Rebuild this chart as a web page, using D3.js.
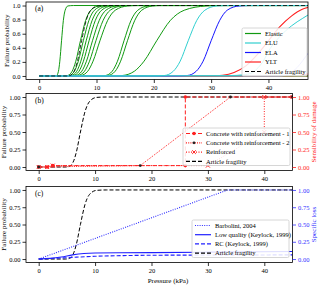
<!DOCTYPE html>
<html>
<head>
<meta charset="utf-8">
<script src="https://cdn.jsdelivr.net/npm/d3@7"></script>
<style>
body { margin: 0; background: #fff; }
svg { display: block; font-family: "Liberation Serif", "DejaVu Serif", serif; }
</style>
</head>
<body>
<svg id="chart" width="320" height="288"></svg>
<script>
var pressureTicks = [0, 10, 20, 30, 40];
var probTicksA = [0, 0.2, 0.4, 0.6, 0.8, 1.0];
var probTicksBC = [0, 0.25, 0.5, 0.75, 1.0];

// panel (a): fragility curves, [pressure kPa, failure probability]
var elastic = [
    [[0,0],[2.6,0],[3.04,0.006],[3.36,0.067],[3.6,0.21],[3.9,0.5],[4.22,0.79],[4.53,0.933],[5.01,0.994],[6,1],[47,1]],
    [[0,0],[4.5,0],[4.95,0.006],[5.75,0.067],[6.39,0.21],[7.2,0.5],[8.11,0.79],[9.01,0.933],[10.48,0.994],[12,1],[47,1]],
    [[0,0],[4.8,0],[5.29,0.006],[6.15,0.067],[6.83,0.21],[7.7,0.5],[8.68,0.79],[9.64,0.933],[11.2,0.994],[13,1],[47,1]],
    [[0,0],[5.1,0],[5.63,0.006],[6.55,0.067],[7.27,0.21],[8.2,0.5],[9.24,0.79],[10.27,0.933],[11.93,0.994],[13.5,1],[47,1]],
    [[0,0],[5.4,0],[5.98,0.006],[6.95,0.067],[7.72,0.21],[8.7,0.5],[9.8,0.79],[10.89,0.933],[12.66,0.994],[14,1],[47,1]],
    [[0,0],[5.8,0],[6.39,0.006],[7.43,0.067],[8.25,0.21],[9.3,0.5],[10.48,0.79],[11.64,0.933],[13.53,0.994],[15,1],[47,1]],
    [[0,0],[6.2,0],[6.8,0.006],[7.91,0.067],[8.78,0.21],[9.9,0.5],[11.16,0.79],[12.39,0.933],[14.4,0.994],[16,1],[47,1]],
    [[0,0],[6.6,0],[7.28,0.006],[8.47,0.067],[9.4,0.21],[10.6,0.5],[11.95,0.79],[13.27,0.933],[15.42,0.994],[17,1],[47,1]],
    [[0,0],[10.5,0],[11.53,0.006],[12.74,0.067],[13.66,0.21],[14.8,0.5],[16.03,0.79],[17.2,0.933],[19.0,0.994],[20.5,1],[47,1]],
    [[0,0],[11,0],[12.0,0.006],[13.26,0.067],[14.21,0.21],[15.4,0.5],[16.68,0.79],[17.89,0.933],[19.77,0.994],[21,1],[47,1]],
    [[0,0],[12.5,0],[14.45,0.006],[16.6,0.067],[18.3,0.21],[20.5,0.5],[22.9,0.79],[25.3,0.933],[29.1,0.994],[31,1],[47,1]],
    [[0,0],[47,0]]
];
var elu = [
    [[0,0],[20,0],[21.8,0.006],[23.4,0.067],[24.6,0.21],[26,0.5],[27.5,0.79],[28.9,0.933],[31.0,0.994],[33,1],[47,1]],
    [[0,0],[33,0.005],[36,0.02],[37.4,0.06],[39,0.2],[40.3,0.39],[42,0.56],[44,0.71],[46,0.82],[47,0.87]]
];
var ela = [
    [[0,0],[24,0],[25.8,0.006],[27.4,0.067],[28.6,0.21],[30,0.5],[31.5,0.79],[32.8,0.933],[34.9,0.994],[37,1],[47,1]],
    [[0,0],[42,0],[43.5,0.03],[45,0.12],[46,0.22],[47,0.33]]
];
var ylt = [
    [[0,0],[30,0],[32,0.01],[34,0.05],[36,0.14],[38,0.3],[40,0.5],[42,0.7],[44,0.85],[46,0.95],[47,0.975]],
    [[0,0],[44,0],[47,0.03]],
    [[0,0],[47,0]]
];
var articleFragility = [[0,0],[4.8,0],[5.35,0.006],[6.09,0.067],[6.67,0.21],[7.4,0.5],[8.21,0.79],[8.99,0.933],[10.24,0.994],[12,1],[47,1]];

// panel (b): sensibility of damage
var concrete1 = [[0,0],[1.5,0],[2.5,0.02],[26,0.02],[26,1],[45,1]];
var concrete2 = [[0,0],[18,0.02],[34,1],[45,1]];
var reinforced = [[0,0],[1.5,0],[2.5,0.02],[30,0.02],[40,0.5],[40,1],[45,1]];

// panel (c): specific loss
var barbolini = [[0,0],[33.5,1],[45,1]];
var lowQuality = [[0,0],[2,0.01],[4,0.03],[6,0.06],[8,0.08],[10,0.087],[20,0.093],[30,0.1],[45,0.11]];
var rcKeylock = [[0,0],[5,0.02],[10,0.04],[15,0.05],[20,0.055],[30,0.058],[45,0.06]];

var svg = d3.select('#chart');

function makePanel(id, box, xDomain) {
    var x = d3.scaleLinear().domain(xDomain).range([box.left, box.right]);
    var y = d3.scaleLinear().domain([-0.05, 1.05]).range([box.bottom, box.top]);
    svg.append('clipPath').attr('id', id)
        .append('rect')
        .attr('x', box.left).attr('y', box.top)
        .attr('width', box.right - box.left).attr('height', box.bottom - box.top);
    var g = svg.append('g');
    var plot = g.append('g').attr('clip-path', 'url(#' + id + ')');
    return { x: x, y: y, g: g, plot: plot, box: box };
}

function drawAxes(p, yTicks, yFmt) {
    p.g.append('g')
        .attr('transform', 'translate(0,' + p.box.bottom + ')')
        .call(d3.axisBottom(p.x).tickValues(pressureTicks).tickSize(3.5).tickPadding(2).tickFormat(d3.format('d')));
    p.g.append('g')
        .attr('transform', 'translate(' + p.box.left + ',0)')
        .call(d3.axisLeft(p.y).tickValues(yTicks).tickSize(3.5).tickPadding(2).tickFormat(d3.format(yFmt)));
    p.g.selectAll('.tick text').attr('font-size', 6.5).attr('font-family', 'Liberation Serif');
    p.g.selectAll('.domain').remove();
    p.g.selectAll('.tick line').attr('stroke', '#000').attr('stroke-width', 0.8);
    p.g.append('rect')
        .attr('x', p.box.left).attr('y', p.box.top)
        .attr('width', p.box.right - p.box.left).attr('height', p.box.bottom - p.box.top)
        .attr('fill', 'none').attr('stroke', '#000').attr('stroke-width', 0.8);
}

function drawRightAxis(p, color, label) {
    var ax = p.g.append('g')
        .attr('transform', 'translate(' + p.box.right + ',0)')
        .call(d3.axisRight(p.y).tickValues(probTicksBC).tickSize(3.5).tickPadding(2).tickFormat(d3.format('.2f')));
    ax.select('.domain').remove();
    ax.selectAll('.tick line').attr('stroke', color).attr('stroke-width', 0.8);
    ax.selectAll('.tick text').attr('fill', color).attr('font-size', 6.5).attr('font-family', 'Liberation Serif');
    var cy = (p.box.top + p.box.bottom) / 2;
    p.g.append('text')
        .attr('transform', 'translate(316,' + cy + ') rotate(-90)')
        .attr('text-anchor', 'middle').attr('font-size', 7).attr('fill', color)
        .text(label);
}

function yLabel(p, xPos) {
    var cy = (p.box.top + p.box.bottom) / 2;
    p.g.append('text')
        .attr('transform', 'translate(' + xPos + ',' + cy + ') rotate(-90)')
        .attr('text-anchor', 'middle').attr('font-size', 7)
        .text('Failure probability');
}

function panelTag(p, t) {
    p.g.append('text').attr('x', p.box.left + 9).attr('y', p.box.top + 9)
        .attr('font-size', 7.5).text(t);
}

function curve(p, data, color, width, dash, smooth) {
    var line = d3.line()
        .x(function (d) { return p.x(d[0]); })
        .y(function (d) { return p.y(d[1]); });
    if (smooth) line.curve(d3.curveMonotoneX);
    return p.plot.append('path')
        .datum(data)
        .attr('d', line)
        .attr('fill', 'none')
        .attr('stroke', color)
        .attr('stroke-width', width)
        .attr('stroke-dasharray', dash || null);
}

function circles(p, data, color, r) {
    p.plot.selectAll(null).data(data).enter().append('circle')
        .attr('cx', function (d) { return p.x(d[0]); })
        .attr('cy', function (d) { return p.y(d[1]); })
        .attr('r', r).attr('fill', color);
}

function crosses(p, data, color, s) {
    p.plot.selectAll(null).data(data).enter().append('path')
        .attr('transform', function (d) { return 'translate(' + p.x(d[0]) + ',' + p.y(d[1]) + ')'; })
        .attr('d', 'M' + (-s) + ',' + (-s) + 'L' + s + ',' + s + 'M' + (-s) + ',' + s + 'L' + s + ',' + (-s))
        .attr('stroke', color).attr('stroke-width', 1).attr('fill', 'none');
}

function legend(box, items) {
    var g = svg.append('g');
    g.append('rect').attr('x', box.x).attr('y', box.y).attr('width', box.w).attr('height', box.h)
        .attr('rx', 1.5).attr('fill', '#fff').attr('fill-opacity', 0.85)
        .attr('stroke', '#ccc').attr('stroke-width', 0.8);
    items.forEach(function (it, i) {
        var cy = box.y + 5.5 + i * box.step;
        g.append('line').attr('x1', box.x + 3).attr('x2', box.x + 19).attr('y1', cy).attr('y2', cy)
            .attr('stroke', it.color).attr('stroke-width', 1.2).attr('stroke-dasharray', it.dash || null);
        if (it.marker === 'o') {
            g.append('circle').attr('cx', box.x + 11).attr('cy', cy).attr('r', it.r || 1.8).attr('fill', it.mcolor || it.color);
        } else if (it.marker === 'x') {
            var s = 1.8, mx = box.x + 11;
            g.append('path').attr('d', 'M' + (mx - s) + ',' + (cy - s) + 'L' + (mx + s) + ',' + (cy + s) + 'M' + (mx - s) + ',' + (cy + s) + 'L' + (mx + s) + ',' + (cy - s))
                .attr('stroke', it.color).attr('stroke-width', 1);
        }
        g.append('text').attr('x', box.x + 23).attr('y', cy + 2.2).attr('font-size', 6.5).text(it.label);
    });
}

// ---- panel (a)
var pa = makePanel('clipA', { left: 26, right: 308, top: 2, bottom: 79.5 }, [-2.3, 46.9]);
drawAxes(pa, probTicksA, '.1f');
yLabel(pa, 9);
ylt.forEach(function (c) { curve(pa, c, '#ff2020', 1.1, null, true); });
elastic.forEach(function (c) { curve(pa, c, '#119911', 1, null, true); });
curve(pa, ela[0], '#1515ff', 1, null, true);
curve(pa, ela[1], '#a0a0ff', 1, null, true);
elu.forEach(function (c) { curve(pa, c, '#30cfcf', 1, null, true); });
curve(pa, articleFragility, '#000', 1, '4,2', true).attr('stroke-opacity', 0.8);
panelTag(pa, '(a)');
legend({ x: 242, y: 28, w: 65, h: 48, step: 9.5 }, [
    { label: 'Elastic', color: '#119911' },
    { label: 'ELU', color: '#30cfcf' },
    { label: 'ELA', color: '#1515ff' },
    { label: 'YLT', color: '#ff2020' },
    { label: 'Article fragility', color: '#000', dash: '4,2' }
]);

// ---- panel (b)
var pb = makePanel('clipB', { left: 26, right: 292.5, top: 93.5, bottom: 170.5 }, [-2.25, 45]);
drawAxes(pb, probTicksBC, '.2f');
yLabel(pb, 6);
drawRightAxis(pb, '#ff2020', 'Sensibility of damage');
curve(pb, articleFragility, '#000', 1, '4,2', true);
curve(pb, reinforced, '#ff2020', 1, '1,1.5');
curve(pb, concrete2, '#ff2020', 1, '1,1.2');
curve(pb, concrete1, '#ff2020', 1, '4,2');
crosses(pb, reinforced, '#ff2020', 2);
circles(pb, concrete1, '#ff2020', 1.8);
circles(pb, concrete2, '#222', 1.4);
panelTag(pb, '(b)');
legend({ x: 183, y: 128, w: 107, h: 37.5, step: 9.3 }, [
    { label: 'Concrete with reinforcement - 1', color: '#ff2020', dash: '4,2', marker: 'o' },
    { label: 'Concrete with reinforcement - 2', color: '#ff2020', dash: '1,1.2', marker: 'o', mcolor: '#222', r: 1.4 },
    { label: 'Reinforced', color: '#ff2020', dash: '1,1.5', marker: 'x' },
    { label: 'Article fragility', color: '#000', dash: '4,2' }
]);

// ---- panel (c)
var pc = makePanel('clipC', { left: 26, right: 292.5, top: 186.5, bottom: 262.5 }, [-2.25, 45]);
drawAxes(pc, probTicksBC, '.2f');
yLabel(pc, 6);
drawRightAxis(pc, '#3030ff', 'Specific loss');
curve(pc, articleFragility, '#000', 1, '4,2', true);
curve(pc, barbolini, '#3030ff', 1.1, '1,1.3');
curve(pc, lowQuality, '#2020ff', 1.1, null, true);
curve(pc, rcKeylock, '#2020ff', 1.1, '4,2', true);
panelTag(pc, '(c)');
legend({ x: 192, y: 220, w: 97, h: 37.5, step: 9.2 }, [
    { label: 'Barbolini, 2004', color: '#3030ff', dash: '1,1.3' },
    { label: 'Low quality (Keylock, 1999)', color: '#2020ff' },
    { label: 'RC (Keylock, 1999)', color: '#2020ff', dash: '4,2' },
    { label: 'Article fragility', color: '#000', dash: '4,2' }
]);

svg.append('text').attr('x', 168).attr('y', 283).attr('text-anchor', 'middle')
    .attr('font-size', 7).text('Pressure (kPa)');
</script>
</body>
</html>
